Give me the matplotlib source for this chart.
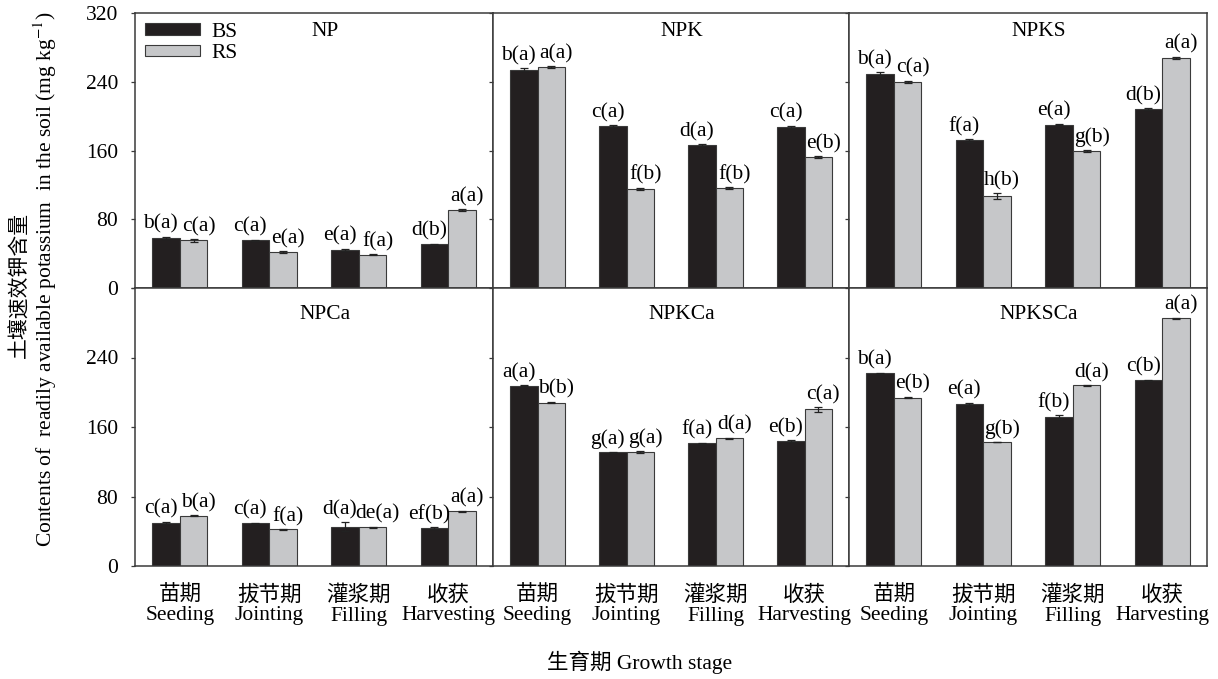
import numpy as np
import matplotlib
matplotlib.use("Agg")
from matplotlib import pyplot as plt

# fonts: Times-like for Latin, CJK fallback for Chinese
plt.rcParams["font.family"] = ["Liberation Serif", "Noto Sans CJK SC"]
plt.rcParams["mathtext.fontset"] = "stix"
plt.rcParams["axes.unicode_minus"] = False

# growth stages
stages_cn = ["苗期", "拔节期", "灌浆期", "收获"]
stages_en = ["Seeding", "Jointing", "Filling", "Harvesting"]
treatments = ["NP", "NPK", "NPKS", "NPCa", "NPKCa", "NPKSCa"]

# readily available potassium, mg/kg (BS = bulk soil, RS = rhizosphere soil)
bs_np = [58.5, 55.4, 44.5, 50.7]
rs_np = [55.4, 41.7, 38.7, 90.7]
bs_npk = [254.0, 188.6, 166.4, 187.4]
rs_npk = [257.0, 115.6, 116.3, 152.1]
bs_npks = [248.8, 171.9, 190.2, 208.0]
rs_npks = [239.9, 107.0, 159.9, 267.8]
bs_npca = [49.5, 49.1, 45.2, 43.7]
rs_npca = [58.0, 42.1, 44.8, 63.0]
bs_npkca = [207.3, 130.7, 141.2, 143.9]
rs_npkca = [188.0, 131.2, 147.0, 180.2]
bs_npksca = [221.8, 186.8, 171.3, 213.6]
rs_npksca = [193.8, 142.7, 207.8, 285.3]

# standard errors
bs_np_err = [1.2, 0.8, 1.2, 1.0]
rs_np_err = [1.5, 0.8, 0.8, 0.8]
bs_npk_err = [2.0, 0.8, 0.8, 1.5]
rs_npk_err = [0.8, 1.0, 1.0, 1.0]
bs_npks_err = [2.0, 1.5, 1.0, 1.0]
rs_npks_err = [1.0, 3.5, 1.2, 1.5]
bs_npca_err = [1.5, 0.5, 5.0, 1.0]
rs_npca_err = [0.5, 0.5, 0.5, 0.8]
bs_npkca_err = [0.5, 0.5, 0.8, 1.0]
rs_npkca_err = [0.8, 1.0, 0.5, 2.5]
bs_npksca_err = [0.5, 1.0, 2.0, 1.0]
rs_npksca_err = [0.8, 0.5, 0.5, 0.5]

# significance letters
bs_np_lab = ["b(a)", "c(a)", "e(a)", "d(b)"]
rs_np_lab = ["c(a)", "e(a)", "f(a)", "a(a)"]
bs_npk_lab = ["b(a)", "c(a)", "d(a)", "c(a)"]
rs_npk_lab = ["a(a)", "f(b)", "f(b)", "e(b)"]
bs_npks_lab = ["b(a)", "f(a)", "e(a)", "d(b)"]
rs_npks_lab = ["c(a)", "h(b)", "g(b)", "a(a)"]
bs_npca_lab = ["c(a)", "c(a)", "d(a)", "ef(b)"]
rs_npca_lab = ["b(a)", "f(a)", "de(a)", "a(a)"]
bs_npkca_lab = ["a(a)", "g(a)", "f(a)", "e(b)"]
rs_npkca_lab = ["b(b)", "g(a)", "d(a)", "c(a)"]
bs_npksca_lab = ["b(a)", "e(a)", "f(b)", "c(b)"]
rs_npksca_lab = ["e(b)", "g(b)", "d(a)", "a(a)"]

panels = [
    (bs_np, rs_np, bs_np_err, rs_np_err, bs_np_lab, rs_np_lab),
    (bs_npk, rs_npk, bs_npk_err, rs_npk_err, bs_npk_lab, rs_npk_lab),
    (bs_npks, rs_npks, bs_npks_err, rs_npks_err, bs_npks_lab, rs_npks_lab),
    (bs_npca, rs_npca, bs_npca_err, rs_npca_err, bs_npca_lab, rs_npca_lab),
    (bs_npkca, rs_npkca, bs_npkca_err, rs_npkca_err, bs_npkca_lab, rs_npkca_lab),
    (bs_npksca, rs_npksca, bs_npksca_err, rs_npksca_err, bs_npksca_lab, rs_npksca_lab),
]

W, H = 1218, 679
fig = plt.figure(figsize=(W / 100, H / 100), dpi=100)

# panel edges in pixels
col_edges = [(135, 493), (493, 849), (849, 1207)]
row_edges = [(13, 288), (288, 566)]
title_y = [0.933, 0.905]

bs_color = "#231f20"
rs_color = "#c6c7c9"
edge_color = "#3a3a3a"
width = 0.31
x = np.arange(4)
fs = 15.5

for idx, (bs, rs, bs_err, rs_err, bs_lab, rs_lab) in enumerate(panels):
    row, col = divmod(idx, 3)
    x0, x1 = col_edges[col]
    ytop, ybot = row_edges[row]
    ax = fig.add_axes([x0 / W, 1 - ybot / H, (x1 - x0) / W, (ybot - ytop) / H])

    ax.bar(x - width / 2, bs, width, color=bs_color, edgecolor=edge_color,
           linewidth=0.8, label="BS")
    ax.bar(x + width / 2, rs, width, color=rs_color, edgecolor=edge_color,
           linewidth=0.8, label="RS")
    ax.errorbar(x - width / 2, bs, yerr=bs_err, fmt="none", ecolor="#222222",
                elinewidth=0.9, capsize=3, capthick=0.9)
    ax.errorbar(x + width / 2, rs, yerr=rs_err, fmt="none", ecolor="#222222",
                elinewidth=0.9, capsize=3, capthick=0.9)

    # letters above bars
    for i in range(4):
        ax.annotate(bs_lab[i], (x[i] - width / 2, bs[i] + bs_err[i]),
                    textcoords="offset pixels", xytext=(-5, 3),
                    ha="center", va="bottom", fontsize=fs)
        ax.annotate(rs_lab[i], (x[i] + width / 2, rs[i] + rs_err[i]),
                    textcoords="offset pixels", xytext=(5, 3),
                    ha="center", va="bottom", fontsize=fs)

    ax.set_xlim(-0.5, 3.5)
    ax.set_ylim(0, 320)
    ax.set_yticks([0, 80, 160, 240, 320])
    ax.tick_params(axis="y", direction="out", length=3, width=0.9, pad=9,
                   labelsize=fs, color=edge_color)
    if col != 0:
        ax.set_yticklabels([])
    elif row == 1:
        ax.set_yticklabels(["0", "80", "160", "240", ""])

    ax.set_xticks(x)
    ax.tick_params(axis="x", length=0, labelsize=fs, pad=14)
    if row == 1:
        ax.set_xticklabels([c + "\n" + e for c, e in zip(stages_cn, stages_en)],
                           linespacing=1.05)
    else:
        ax.set_xticklabels([])

    for sp in ax.spines.values():
        sp.set_linewidth(1.1)
        sp.set_color(edge_color)

    ax.text(0.53, title_y[row], treatments[idx], transform=ax.transAxes,
            ha="center", va="center", fontsize=fs)

    if idx == 0:
        ax.legend(loc="upper left", bbox_to_anchor=(0.0, 1.0), frameon=False,
                  fontsize=fs, handlelength=2.56, handleheight=0.42,
                  handletextpad=0.55, labelspacing=0.12, borderaxespad=0.25,
                  borderpad=0.2)

# y-axis label in two lines
fig.text(20 / W, 1 - 285 / H, "土壤速效钾含量", rotation=90,
         ha="center", va="center", fontsize=15)
fig.text(45 / W, 1 - 279 / H,
         "Contents of  readily available potassium  in the soil (mg kg$^{-1}$)",
         rotation=90, ha="center", va="center", fontsize=fs)

# x-axis label
fig.text(640 / W, 1 - 662 / H, "生育期 Growth stage", ha="center", va="center",
         fontsize=fs)

fig.savefig("out.png", dpi=100)
